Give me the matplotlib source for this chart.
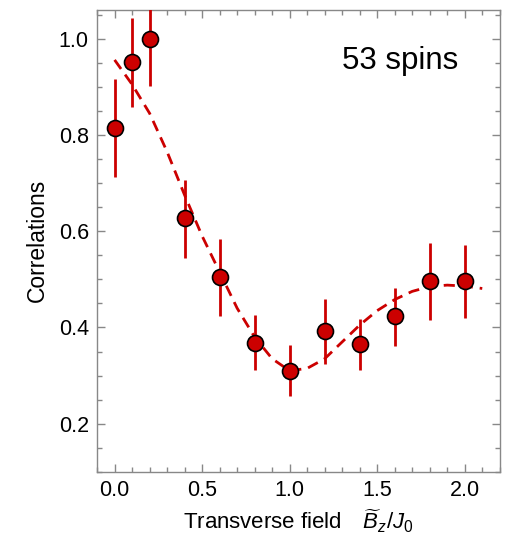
import matplotlib
matplotlib.use("Agg")
import matplotlib.pyplot as plt
from matplotlib.ticker import MultipleLocator

plt.rcParams['font.family'] = ['Liberation Sans', 'DejaVu Sans']
plt.rcParams['mathtext.fontset'] = 'custom'
plt.rcParams['mathtext.rm'] = 'Liberation Sans'
plt.rcParams['mathtext.it'] = 'Liberation Sans:italic'

# Measured data
field = [0.0, 0.1, 0.2, 0.4, 0.6, 0.8, 1.0, 1.2, 1.4, 1.6, 1.8, 2.0]
corr = [0.815, 0.952, 1.0, 0.627, 0.504, 0.368, 0.310, 0.393, 0.365, 0.423, 0.496, 0.496]
err_lo = [0.102, 0.094, 0.098, 0.083, 0.081, 0.056, 0.052, 0.069, 0.053, 0.061, 0.080, 0.077]
err_hi = [0.102, 0.092, 0.10, 0.079, 0.079, 0.057, 0.054, 0.067, 0.052, 0.058, 0.080, 0.075]

# Theory curve
fit_x = [0.0, 0.1, 0.2, 0.3, 0.4, 0.5, 0.6, 0.7, 0.8, 0.9, 1.0, 1.1,
         1.2, 1.3, 1.4, 1.5, 1.6, 1.7, 1.8, 1.9, 2.0, 2.1]
fit_y = [0.956, 0.905, 0.845, 0.765, 0.675, 0.59, 0.515, 0.44, 0.38, 0.335,
         0.31, 0.315, 0.335, 0.37, 0.405, 0.435, 0.458, 0.475, 0.485, 0.488,
         0.486, 0.481]

red = '#cc0000'
fig = plt.figure(figsize=(5.11, 5.48), dpi=100)
ax = fig.add_axes([0.19, 0.139, 0.788, 0.843])

ax.plot(fit_x, fit_y, ls=(0, (4, 2.5)), color=red, lw=2, zorder=2)
ax.errorbar(field, corr, yerr=[err_lo, err_hi], fmt='o', color=red,
            ecolor=red, elinewidth=2, capsize=0, markersize=11.5,
            markerfacecolor=red, markeredgecolor='black', markeredgewidth=1.2,
            zorder=3)

ax.set_xlim(-0.1, 2.2)
ax.set_ylim(0.1, 1.06)
ax.xaxis.set_minor_locator(MultipleLocator(0.1))
ax.yaxis.set_minor_locator(MultipleLocator(0.05))
ax.set_xticks([0.0, 0.5, 1.0, 1.5, 2.0])
ax.set_xticklabels(['0.0', '0.5', '1.0', '1.5', '2.0'])
ax.set_yticks([0.2, 0.4, 0.6, 0.8, 1.0])
ax.set_yticklabels(['0.2', '0.4', '0.6', '0.8', '1.0'])

ax.tick_params(which='both', direction='in', top=True, right=True,
               color='#888888', labelsize=15.5, labelcolor='black')
ax.tick_params(which='major', length=6, width=1, pad=6)
ax.tick_params(which='minor', length=3.5, width=1)
for s in ax.spines.values():
    s.set_color('#888888')
    s.set_linewidth(1)

ax.set_xlabel(r'Transverse field $\;\;\;\widetilde{B}_{z}/J_{0}$', fontsize=16, labelpad=5)
ax.set_ylabel('Correlations', fontsize=16.5, labelpad=7)
ax.text(1.63, 0.954, '53 spins', fontsize=22.5, ha='center', va='center')

fig.savefig('out.png', dpi=100)
